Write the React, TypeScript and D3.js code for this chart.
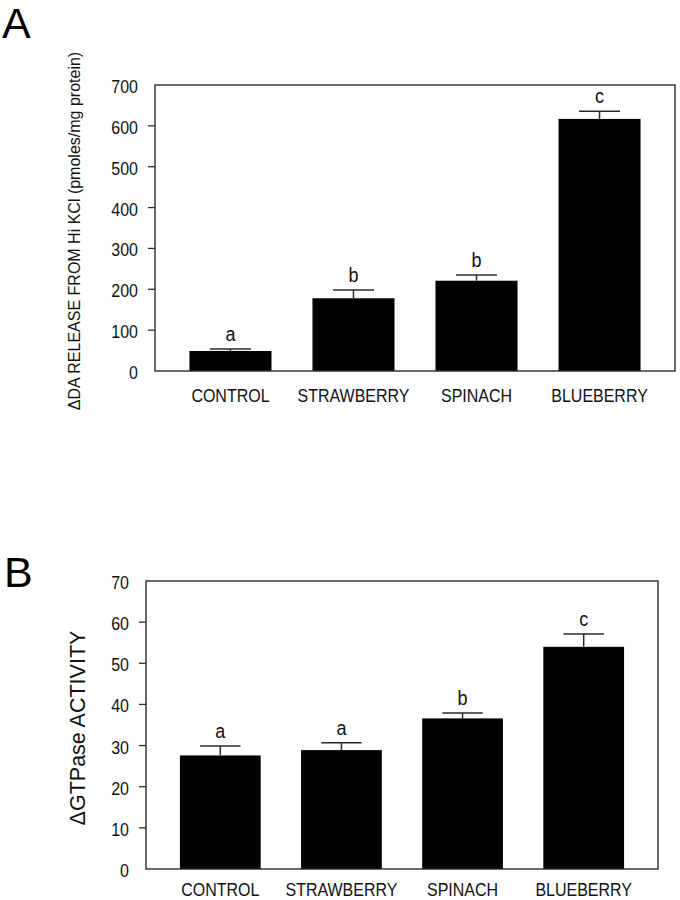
import React from "react";
import * as d3 from "d3";

const categories = ["CONTROL", "STRAWBERRY", "SPINACH", "BLUEBERRY"];

const daMeans = [49, 178, 221, 617];
const daErrors = [5, 20, 14, 19];
const daLetters = ["a", "b", "b", "c"];
const daTicks = [0, 100, 200, 300, 400, 500, 600, 700];

const gtpMeans = [27.6, 28.9, 36.6, 54.0];
const gtpErrors = [2.3, 1.8, 1.3, 3.1];
const gtpLetters = ["a", "a", "b", "c"];
const gtpTicks = [0, 10, 20, 30, 40, 50, 60, 70];

const FONT = "'Liberation Sans', Arial, Helvetica, sans-serif";
const LINE = "#2a2a2a";

function Txt({ x, y, anchor = "middle", size = 16, sy = 1.1, children }: any) {
  return (
    <text
      transform={`translate(${x},${y}) scale(1,${sy})`}
      textAnchor={anchor}
      fontSize={size}
      fontFamily={FONT}
      fill="#111"
    >
      {children}
    </text>
  );
}

function Panel({ label, labelX, labelY, title, titleX, titleSize, left, right, top, bottom, max, ticks, means, errors, letters, catOffset }: any) {
  const x = d3.scaleBand<string>().domain(categories).range([left, right]).paddingInner(1 / 3).paddingOuter(0.28);
  const y = d3.scaleLinear().domain([0, max]).range([bottom, top]);
  const bw = x.bandwidth();
  return (
    <g>
      <text x={labelX} y={labelY} fontSize={43} fontFamily={FONT} fill="#000">{label}</text>
      <text
        transform={`translate(${titleX},${(top + bottom) / 2 + 3}) rotate(-90)`}
        textAnchor="middle"
        fontSize={titleSize}
        fontFamily={FONT}
        fill="#111"
      >
        {title}
      </text>
      {categories.map((c, i) => {
        const cx = (x(c) as number) + bw / 2;
        const yTop = y(means[i]);
        const yErr = y(means[i] + errors[i]);
        return (
          <g key={c}>
            <rect x={x(c)} y={yTop} width={bw} height={bottom - yTop} fill="#000" />
            <line x1={cx} x2={cx} y1={yTop} y2={yErr} stroke={LINE} strokeWidth={1.5} />
            <line x1={cx - bw / 4} x2={cx + bw / 4} y1={yErr} y2={yErr} stroke={LINE} strokeWidth={1.5} />
            <Txt x={cx} y={yErr - 8} size={18}>{letters[i]}</Txt>
            <Txt x={cx} y={bottom + catOffset} size={16}>{c}</Txt>
          </g>
        );
      })}
      <rect x={left} y={top} width={right - left} height={bottom - top} fill="none" stroke={LINE} strokeWidth={1.4} />
      {ticks.map((t: number) => (
        <g key={t}>
          {t !== 0 && t !== max && (
            <line x1={left - 7} x2={left} y1={y(t)} y2={y(t)} stroke={LINE} strokeWidth={1.3} />
          )}
          <Txt x={left - 17} y={y(t) + 8} anchor="end" size={16}>{t}</Txt>
        </g>
      ))}
    </g>
  );
}

export default function App() {
  return (
    <svg
      width={680}
      height={900}
      style={{ position: "absolute", left: 0, top: 0, background: "#fff" }}
    >
      <rect x={0} y={0} width={680} height={900} fill="#fff" />
      <Panel
        label="A"
        labelX={2}
        labelY={38}
        title="ΔDA RELEASE FROM Hi KCl (pmoles/mg protein)"
        titleX={80}
        titleSize={16}
        left={155}
        right={675}
        top={85}
        bottom={371}
        max={700}
        ticks={daTicks}
        means={daMeans}
        errors={daErrors}
        letters={daLetters}
        catOffset={31}
      />
      <Panel
        label="B"
        labelX={4}
        labelY={587}
        title="ΔGTPase ACTIVITY"
        titleX={85}
        titleSize={21.5}
        left={146}
        right={658}
        top={581}
        bottom={869}
        max={70}
        ticks={gtpTicks}
        means={gtpMeans}
        errors={gtpErrors}
        letters={gtpLetters}
        catOffset={27}
      />
    </svg>
  );
}
